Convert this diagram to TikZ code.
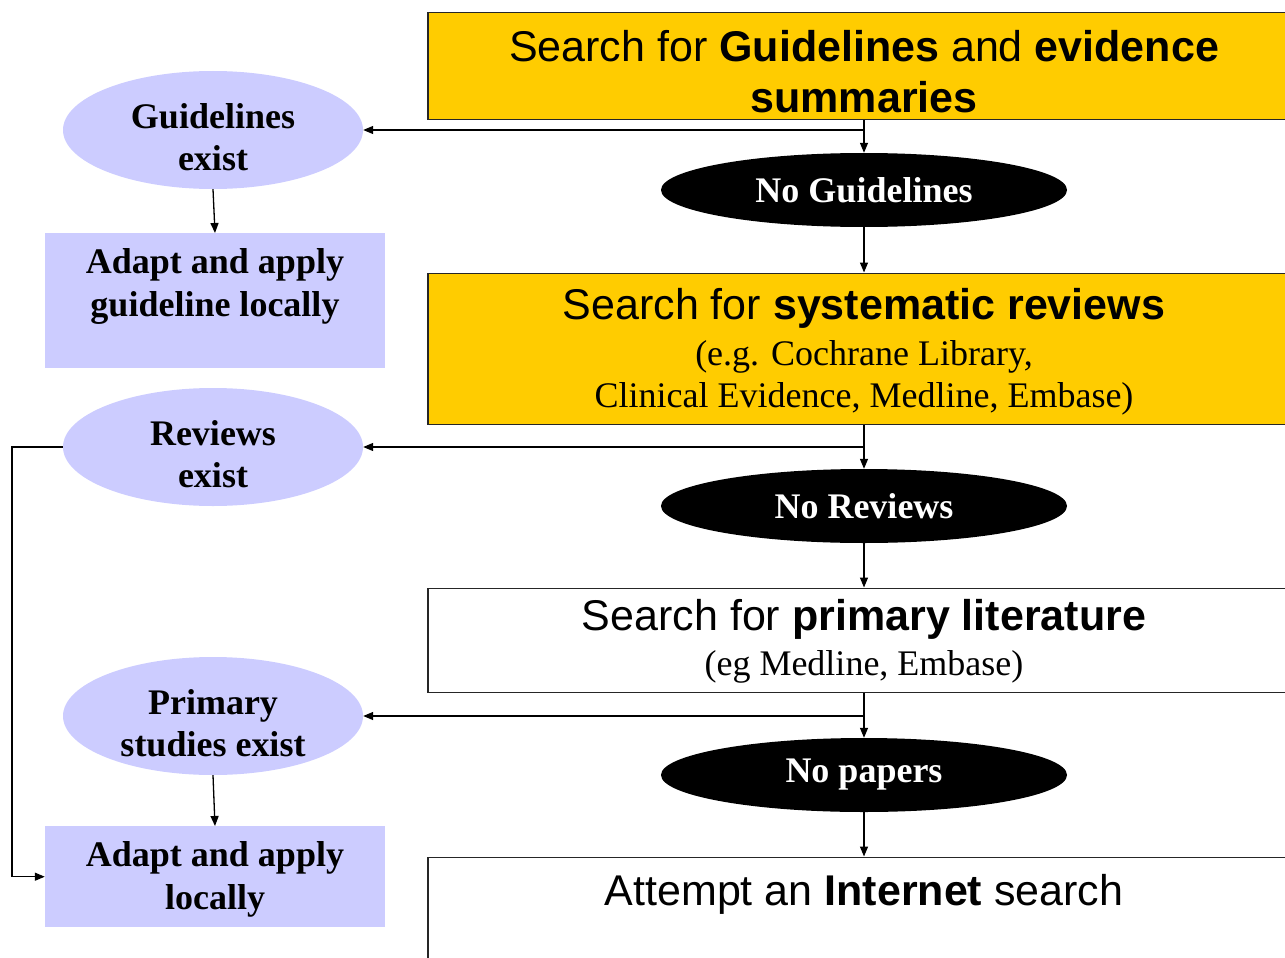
\documentclass[tikz,border=0pt]{standalone}
\usepackage{fontspec}
\setmainfont{Liberation Serif}
\setsansfont{Liberation Sans}
\usetikzlibrary{shapes.geometric,arrows.meta}
\definecolor{gold}{HTML}{FFCC00}
\definecolor{lav}{HTML}{CCCCFF}
\begin{document}
\begin{tikzpicture}[x=1pt,y=-1pt,
  arr/.style={line width=1.3pt,-{Triangle[length=10pt,width=8pt]}},
  sbox/.style={draw=black!85,line width=1.4pt,minimum width=872pt,inner xsep=0pt,inner ysep=0pt,anchor=north,align=center,font=\sffamily\fontsize{43}{51}\selectfont},
  ybox/.style={sbox,fill=gold},
  wbox/.style={sbox,fill=white},
  lbox/.style={fill=lav,minimum width=340pt,inner sep=0pt,anchor=north,align=center,font=\rmfamily\bfseries\fontsize{36}{43}\selectfont},
  lell/.style={ellipse,fill=lav,minimum width=300pt,minimum height=118pt,inner sep=0pt,align=center,text height=80pt,text depth=0pt,font=\rmfamily\bfseries\fontsize{36}{42}\selectfont},
  bell/.style={ellipse,fill=black,text=white,minimum width=406pt,minimum height=74pt,inner sep=0pt,font=\rmfamily\bfseries\fontsize{36}{42}\selectfont}
]
\clip (0,0) rectangle (1285,958);

\node[ybox,text height=100pt,text depth=7pt] (g) at (864,12) {Search for \textbf{Guidelines} and \textbf{evidence}\\\textbf{summaries}};
\node[ybox,text height=134.5pt,text depth=16.5pt] (sr) at (864,272.5) {Search for \textbf{systematic reviews}\\[-5pt]{\rmfamily\fontsize{36}{40}\selectfont (e.g. Cochrane Library,}\\[-9pt]{\rmfamily\fontsize{36}{40}\selectfont Clinical Evidence, Medline, Embase)}};
\node[wbox,text height=87.5pt,text depth=16.5pt] (pl) at (864,587.5) {Search for \textbf{primary literature}\\[-6pt]{\rmfamily\fontsize{36}{40}\selectfont (eg Medline, Embase)}};
\node[wbox,text height=48.5pt,text depth=90pt] (is) at (864,856.5) {Attempt an \textbf{Internet} search};

\node[lbox,text height=83pt,text depth=52pt] (ad1) at (215,233) {Adapt and apply\\guideline locally};
\node[lbox,text height=83.3pt,text depth=17.7pt] (ad2) at (215,826) {Adapt and apply\\locally};

\node[lell] (gex) at (213,130) {Guidelines\\exist};
\node[lell] (rex) at (213,447) {Reviews\\exist};
\node[lell] (pex) at (213,716) {Primary\\studies exist};

\node[bell] (nog) at (864,190) {No Guidelines};
\node[bell] (nor) at (864,506) {No Reviews};
\node[bell] (nop) at (864,775) {No papers};

\coordinate (lft) at (12,447);

\draw[arr] (g.south) -- (nog.north);
\draw[arr] (g.south |- gex.east) -- (gex.east);
\draw[arr] (gex.south) -- (ad1.north);
\draw[arr] (nog.south) -- (sr.north);
\draw[arr] (sr.south) -- (nor.north);
\draw[arr] (sr.south |- rex.east) -- (rex.east);
\draw[arr] (rex.west) -- (lft) |- (ad2.west);
\draw[arr] (nor.south) -- (pl.north);
\draw[arr] (pl.south) -- (nop.north);
\draw[arr] (pl.south |- pex.east) -- (pex.east);
\draw[arr] (pex.south) -- (ad2.north);
\draw[arr] (nop.south) -- (is.north);
\end{tikzpicture}
\end{document}
